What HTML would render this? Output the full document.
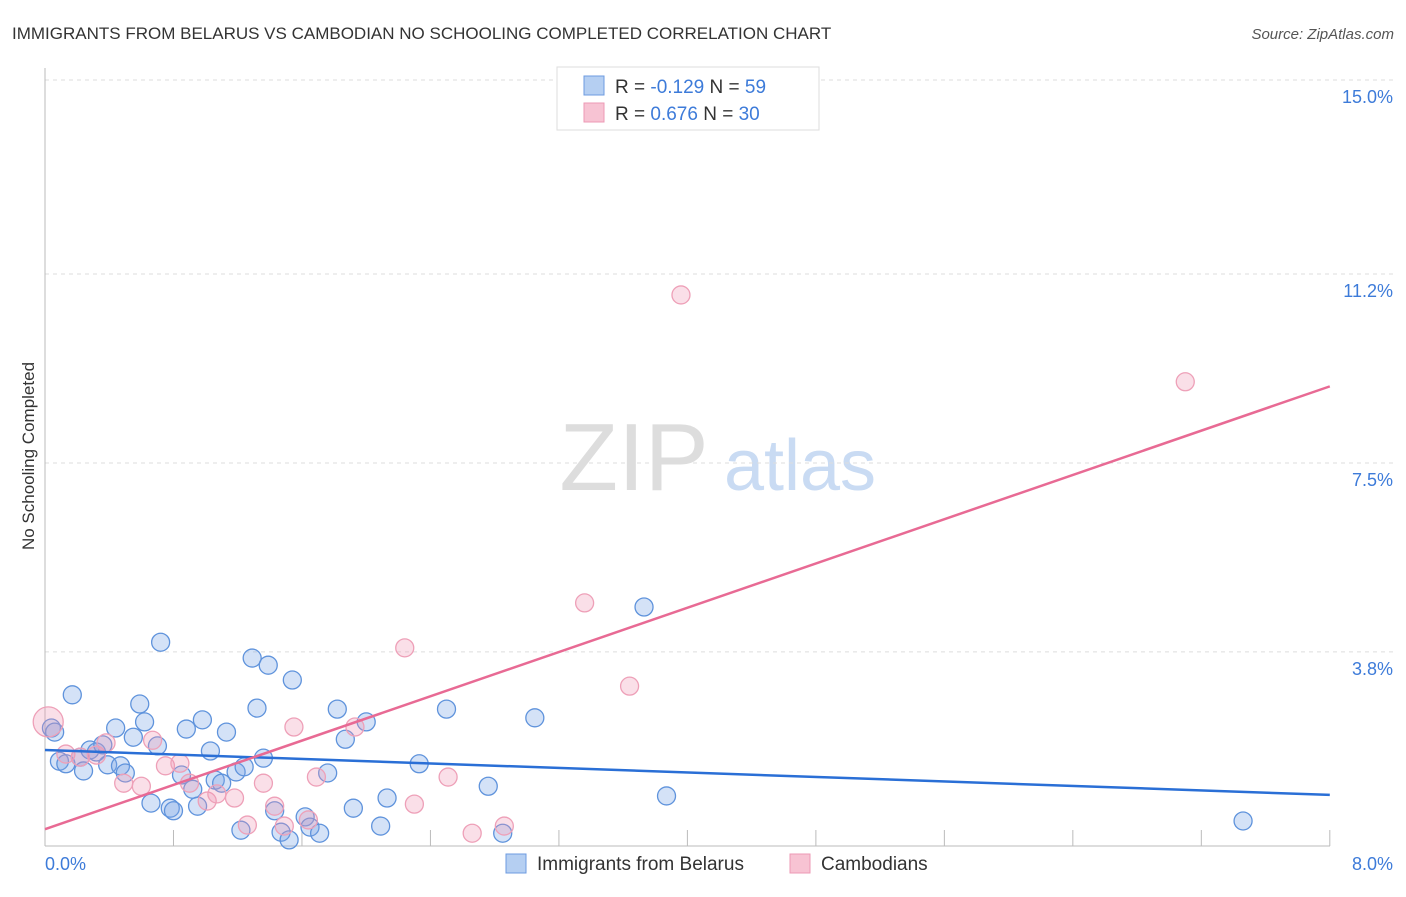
<!DOCTYPE html>
<html><head><meta charset="utf-8"><style>
body{margin:0;background:#fff;font-family:"Liberation Sans",sans-serif;}
svg text{font-family:"Liberation Sans",sans-serif;}
</style></head><body>
<svg width="1406" height="892" viewBox="0 0 1406 892">
<text x="12" y="39" font-size="17" fill="#333">IMMIGRANTS FROM BELARUS VS CAMBODIAN NO SCHOOLING COMPLETED CORRELATION CHART</text>
<text x="1394" y="39" font-size="15" fill="#555" font-style="italic" text-anchor="end">Source: ZipAtlas.com</text>
<g>
<text x="634" y="490" font-size="96" fill="#ddd" font-family="Liberation Serif" text-anchor="middle">ZIP</text>
<text x="800" y="490" font-size="72" fill="#c9dbf3" text-anchor="middle">atlas</text>
</g>
<g id="grid"></g>
<g id="marks"></g>
<text x="34" y="456" font-size="17" fill="#333" transform="rotate(-90 34 456)" text-anchor="middle">No Schooling Completed</text>
<g>
<rect x="557" y="67" width="262" height="63" fill="#fff" stroke="#ddd"/>
<rect x="584" y="76" width="20" height="19" fill="#b5cff2" stroke="#6d9be0"/>
<rect x="584" y="103" width="20" height="19" fill="#f7c3d3" stroke="#ec9ab4"/>
<text x="615" y="93" font-size="19" fill="#333">R = <tspan fill="#3d7bd9">-0.129</tspan>   N = <tspan fill="#3d7bd9">59</tspan></text>
<text x="615" y="120" font-size="19" fill="#333">R =  <tspan fill="#3d7bd9">0.676</tspan>   N = <tspan fill="#3d7bd9">30</tspan></text>
</g>
<g>
<rect x="506" y="854" width="20" height="19" fill="#b5cff2" stroke="#6d9be0"/>
<text x="537" y="870" font-size="19" fill="#333">Immigrants from Belarus</text>
<rect x="790" y="854" width="20" height="19" fill="#f7c3d3" stroke="#ec9ab4"/>
<text x="821" y="870" font-size="19" fill="#333">Cambodians</text>
</g>
</svg>
<script>
const yTicks=[15.0,11.2,7.5,3.8];
const yTickLabels=["15.0%","11.2%","7.5%","3.8%"];
const xLabels=["0.0%","8.0%"];
const blueX=[0.04,0.06,0.09,0.13,0.17,0.22,0.24,0.28,0.32,0.36,0.39,0.44,0.47,0.50,0.55,0.59,0.62,0.66,0.70,0.72,0.78,0.80,0.85,0.88,0.92,0.95,0.98,1.03,1.06,1.10,1.13,1.19,1.22,1.24,1.29,1.32,1.36,1.39,1.43,1.47,1.52,1.54,1.62,1.65,1.71,1.76,1.82,1.87,1.92,2.00,2.09,2.13,2.33,2.50,2.76,2.85,3.05,3.73,3.87,7.46];
const blueY=[2.31,2.23,1.66,1.61,2.96,1.74,1.47,1.88,1.84,1.98,1.59,2.31,1.57,1.43,2.13,2.78,2.43,0.84,1.96,3.99,0.74,0.69,1.39,2.29,1.11,0.78,2.47,1.86,1.29,1.23,2.23,1.45,0.31,1.55,3.68,2.70,1.72,3.54,0.69,0.27,0.12,3.25,0.57,0.37,0.25,1.43,2.68,2.09,0.74,2.43,0.39,0.94,1.61,2.68,1.17,0.25,2.51,4.68,0.98,0.49];
const pinkX=[0.02,0.13,0.22,0.32,0.38,0.49,0.60,0.67,0.75,0.84,0.90,1.01,1.07,1.18,1.26,1.36,1.43,1.49,1.55,1.64,1.69,1.93,2.24,2.30,2.51,2.66,2.86,3.36,3.64,3.96,7.10];
const pinkY=[2.43,1.80,1.74,1.78,2.02,1.23,1.17,2.07,1.57,1.62,1.23,0.88,1.02,0.94,0.41,1.23,0.78,0.39,2.33,0.51,1.35,2.33,3.88,0.82,1.35,0.25,0.39,4.76,3.13,10.79,9.09];
const blueTrend=[1.88,1.00];
const pinkTrend=[0.33,9.00];
const X=v=>45+v*160.6, Y=v=>846-v*51.07;
const NS="http://www.w3.org/2000/svg";
const grid=document.getElementById('grid'), marks=document.getElementById('marks');
function mk(tag,attrs,parent){const e=document.createElementNS(NS,tag);for(const k in attrs)e.setAttribute(k,attrs[k]);parent.appendChild(e);return e;}
yTicks.forEach((t,i)=>{
 const l=mk('line',{x1:45,x2:1395,y1:Y(t),y2:Y(t),stroke:'#ddd','stroke-dasharray':'4,4'},grid);
 
 
 const tx=mk('text',{x:1393,y:Y(t)+23,'font-size':18,fill:'#3d7bd9','text-anchor':'end'},grid);
 tx.textContent=yTickLabels[i];
 
 
});
const ax=mk('line',{x1:45,x2:45,y1:68,y2:846,stroke:'#bbb'},grid);


const bx=mk('line',{x1:45,x2:1330,y1:846,y2:846,stroke:'#bbb'},grid);


for(let i=1;i<=10;i++){const x=X(i*0.8);
 const tk=mk('line',{x1:x,x2:x,y1:830,y2:846,stroke:'#bbb'},grid);
 
 }
[[0,'start',45],[8,'end',1393]].forEach((d,i)=>{
 const tx=mk('text',{x:d[2],y:870,'font-size':18,fill:'#3d7bd9','text-anchor':d[1]},grid);
 tx.textContent=xLabels[i];
 
 });
blueX.forEach((v,i)=>{
 const c=mk('circle',{cx:X(v),cy:Y(blueY[i]),r:9,fill:'rgba(120,165,230,0.32)',stroke:'#5f93dc','stroke-width':1.3},marks);
 
 });
pinkX.forEach((v,i)=>{
 const c=mk('circle',{cx:X(v),cy:Y(pinkY[i]),r:i==0?15:9,fill:'rgba(240,150,180,0.3)',stroke:'#eea0b8','stroke-width':1.3},marks);
 
 });
const bl=mk('line',{x1:X(0),x2:X(8),y1:Y(blueTrend[0]),y2:Y(blueTrend[1]),stroke:'#2a6fd6','stroke-width':2.5},marks);


const pl=mk('line',{x1:X(0),x2:X(8),y1:Y(pinkTrend[0]),y2:Y(pinkTrend[1]),stroke:'#e86a94','stroke-width':2.5},marks);


</script>
</body></html>
